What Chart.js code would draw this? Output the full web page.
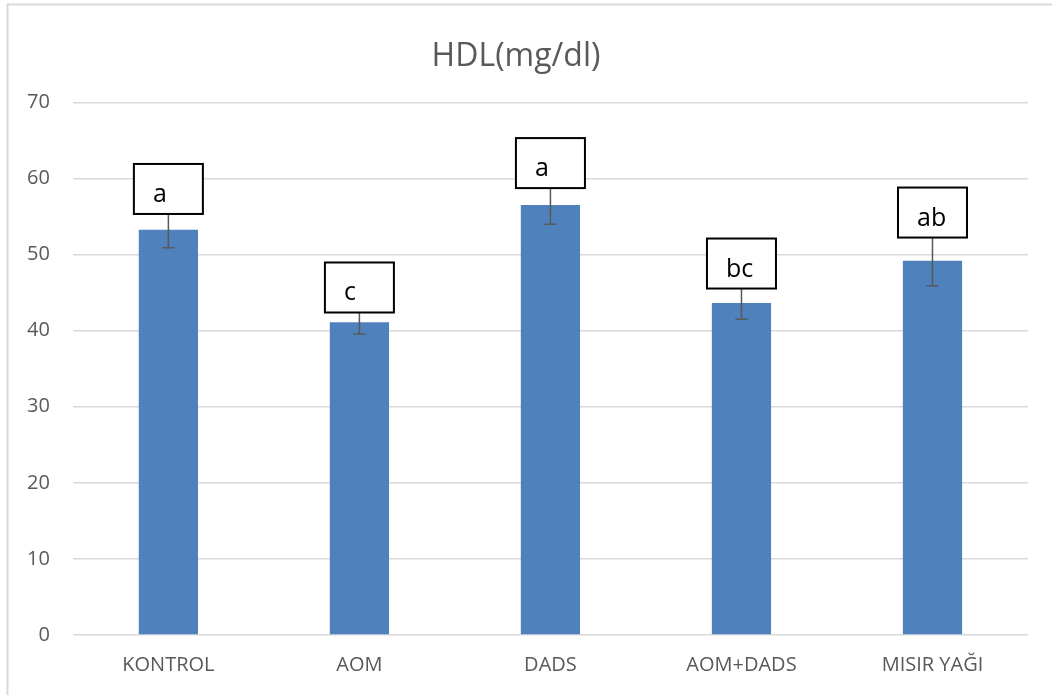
<!DOCTYPE html>
<html>
<head>
<meta charset="utf-8">
<script src="https://cdn.jsdelivr.net/npm/chart.js@4/dist/chart.umd.min.js"></script>
<style>
  html, body { margin: 0; padding: 0; background: #ffffff; }
  #wrap { width: 1052px; height: 695px; position: relative; }
</style>
</head>
<body>
<div id="wrap"><canvas id="c" width="1052" height="695"></canvas></div>
<script>
// HDL values per group (mg/dl), with standard error and significance letters
const groups = ['KONTROL', 'AOM', 'DADS', 'AOM+DADS', 'MISIR YAĞI'];
const hdl = [53.25, 41.1, 56.5, 43.65, 49.2];
const hdlErr = [2.35, 1.55, 2.5, 2.15, 3.3];
const letters = ['a', 'c', 'a', 'bc', 'ab'];
const yTicks = [0, 10, 20, 30, 40, 50, 60, 70];

const FONT = "'Open Sans', 'Liberation Sans', sans-serif";
const GREY_TEXT = '#595959';

// Light frame along the left and top edges of the chart
const framePlugin = {
  id: 'frame',
  beforeDraw(chart) {
    const ctx = chart.ctx;
    ctx.save();
    ctx.fillStyle = '#ffffff';
    ctx.fillRect(0, 0, chart.width, chart.height);
    ctx.strokeStyle = '#d9d9d9';
    ctx.lineWidth = 2;
    ctx.beginPath();
    ctx.moveTo(7.5, chart.height);
    ctx.lineTo(7.5, 4.5);
    ctx.lineTo(chart.width, 4.5);
    ctx.stroke();
    ctx.restore();
  }
};

// Symmetric error bars and boxed significance letters above each bar
const errorLabelPlugin = {
  id: 'errorLabels',
  afterDatasetsDraw(chart) {
    const ctx = chart.ctx;
    const y = chart.scales.y;
    const meta = chart.getDatasetMeta(0);
    ctx.save();
    meta.data.forEach((bar, i) => {
      const x = bar.x;
      const yTop = y.getPixelForValue(hdl[i] + hdlErr[i]);
      const yBot = y.getPixelForValue(hdl[i] - hdlErr[i]);
      ctx.strokeStyle = '#595959';
      ctx.lineWidth = 1.5;
      ctx.beginPath();
      ctx.moveTo(x, yTop);
      ctx.lineTo(x, yBot);
      ctx.moveTo(x - 6, yBot);
      ctx.lineTo(x + 6, yBot);
      ctx.moveTo(x - 6, yTop);
      ctx.lineTo(x + 6, yTop);
      ctx.stroke();

      // label box
      const bw = 69, bh = 50;
      const bx = x - bw / 2;
      const by = yTop + 2 - bh;
      ctx.fillStyle = '#ffffff';
      ctx.fillRect(bx, by, bw, bh);
      ctx.strokeStyle = '#000000';
      ctx.lineWidth = 2;
      ctx.strokeRect(bx, by, bw, bh);
      ctx.fillStyle = '#000000';
      ctx.font = '25px ' + FONT;
      ctx.textAlign = 'left';
      ctx.textBaseline = 'alphabetic';
      ctx.fillText(letters[i], bx + 19, by + bh - 12);
    });
    ctx.restore();
  }
};

new Chart(document.getElementById('c'), {
  type: 'bar',
  data: {
    labels: groups,
    datasets: [{
      data: hdl,
      backgroundColor: '#4f81bd',
      borderWidth: 0,
      categoryPercentage: 1,
      barPercentage: 0.31
    }]
  },
  options: {
    responsive: false,
    animation: false,
    layout: { padding: { left: 4, right: 24, top: 0, bottom: 0 } },
    plugins: {
      legend: { display: false },
      tooltip: { enabled: false },
      title: {
        display: true,
        text: 'HDL(mg/dl)',
        color: GREY_TEXT,
        font: { family: FONT, size: 32, weight: 'normal' },
        padding: { top: 38, bottom: 26 }
      }
    },
    scales: {
      x: {
        grid: { display: false, drawTicks: false },
        border: { display: false },
        ticks: { color: GREY_TEXT, font: { family: FONT, size: 20 }, padding: 18 }
      },
      y: {
        min: 0,
        max: 70,
        afterBuildTicks(axis) { axis.ticks = yTicks.map(v => ({ value: v })); },
        grid: { color: '#d9d9d9', lineWidth: 1.5, drawTicks: false },
        border: { display: false },
        ticks: { color: GREY_TEXT, font: { family: FONT, size: 20 }, padding: 23 }
      }
    }
  },
  plugins: [framePlugin, errorLabelPlugin]
});
</script>
</body>
</html>
